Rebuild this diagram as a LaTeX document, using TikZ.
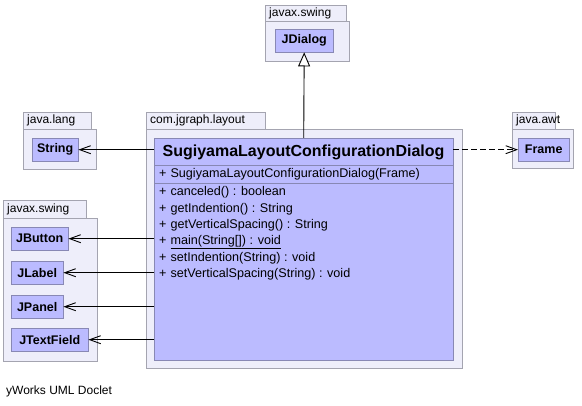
\documentclass[tikz,border=0pt]{standalone}
\usepackage{fontspec}
\setmainfont{Liberation Sans}
\usepackage{tikz}
\usetikzlibrary{arrows.meta}
\definecolor{PkgFill}{HTML}{EEEEFA}
\definecolor{PkgLine}{HTML}{A4A4B0}
\definecolor{ClsFill}{HTML}{BBBBFF}
\definecolor{ClsLine}{HTML}{8888B4}

\begin{document}
\begin{tikzpicture}[
  x=1pt,y=-1pt,
  every node/.style={font=\fontsize{12}{14}\selectfont},
  pkg/.style={draw=PkgLine,fill=PkgFill},
  pkgname/.style={anchor=west,inner sep=0pt},
  cls/.style={draw=ClsLine,fill=ClsFill,anchor=north west,inner sep=0pt,
    minimum height=23pt,font=\fontsize{12.5}{14}\selectfont\bfseries},
  member/.style={anchor=west,inner sep=0pt,font=\fontsize{12.6}{14}\selectfont},
  uses/.style={-{Straight Barb[length=11pt,width=8pt]},line width=0.9pt},
  extends/.style={-{Triangle[open,length=14pt,width=12pt,fill=white]},line width=0.9pt}
]
  \useasboundingbox[fill=white] (0,0) rectangle (582,406);

  % packages
  \draw[pkg] (265,5) rectangle (346,21);
  \draw[pkg] (265,21) rectangle (349,61);
  \node[pkgname] (pswingtop) at (269,13) {javax.swing};
  \draw[pkg] (23,112) rectangle (91,129);
  \draw[pkg] (23,129) rectangle (96,169);
  \node[pkgname] (plang) at (27,120.5) {java.lang};
  \draw[pkg] (146,112) rectangle (265,129);
  \draw[pkg] (146,129) rectangle (462,368);
  \node[pkgname] (playout) at (150,120.5) {com.jgraph.layout};
  \draw[pkg] (3,200) rectangle (86,218);
  \draw[pkg] (3,218) rectangle (97,361);
  \node[pkgname] (pswingleft) at (7,209) {javax.swing};
  \draw[pkg] (512,112) rectangle (555,129);
  \draw[pkg] (512,129) rectangle (573,168);
  \node[pkgname] (pawt) at (516,120.5) {java.awt};

  % classes
  \node[cls,minimum width=58pt] (jdialog) at (275,29) {JDialog};
  \node[cls,minimum width=46pt] (string) at (32,138) {String};
  \node[cls,minimum width=51pt] (frame) at (518,138) {Frame};
  \node[cls,minimum width=57pt] (jbutton) at (11,227) {JButton};
  \node[cls,minimum width=52pt] (jlabel) at (11,261) {JLabel};
  \node[cls,minimum width=52pt] (jpanel) at (11,295) {JPanel};
  \node[cls,minimum width=77pt] (jtextfield) at (11,328) {JTextField};

  % main class
  \node[draw=ClsLine,fill=ClsFill,anchor=north west,inner sep=0pt,
    minimum width=299pt,minimum height=222pt] (dialog) at (154,138) {};
  \node[font=\fontsize{16}{18}\selectfont\bfseries,inner sep=0pt]
    (title) at (303.5,152) {SugiyamaLayoutConfigurationDialog};
  \draw[ClsLine] (154,165) -- (453,165);
  \draw[ClsLine] (154,183) -- (453,183);
  \node[member] (ctor) at (159,174) {+\hspace{4pt}SugiyamaLayoutConfigurationDialog(Frame)};
  \node[member] (m1) at (159,192) {+\hspace{4pt}canceled() : boolean};
  \node[member] (m2) at (159,209) {+\hspace{4pt}getIndention() : String};
  \node[member] (m3) at (159,225.5) {+\hspace{4pt}getVerticalSpacing() : String};
  \node[member] (m4) at (159,242) {+\hspace{4pt}\underline{main(String[]) : void}};
  \node[member] (m5) at (159,258) {+\hspace{4pt}setIndention(String) : void};
  \node[member] (m6) at (159,274.5) {+\hspace{4pt}setVerticalSpacing(String) : void};

  % relations
  \draw[extends] (dialog.north) -- (jdialog.south);
  \draw[uses] (dialog.west |- string.east) -- (string.east);
  \draw[uses,dash pattern=on 6pt off 3pt] (dialog.east |- frame.west) -- (frame.west);
  \foreach \c in {jbutton,jlabel,jpanel,jtextfield}
    {\draw[uses] (dialog.west |- \c.east) -- (\c.east);}

  \node[anchor=west,inner sep=0pt] (doclet) at (6,391) {yWorks UML Doclet};
\end{tikzpicture}
\end{document}
